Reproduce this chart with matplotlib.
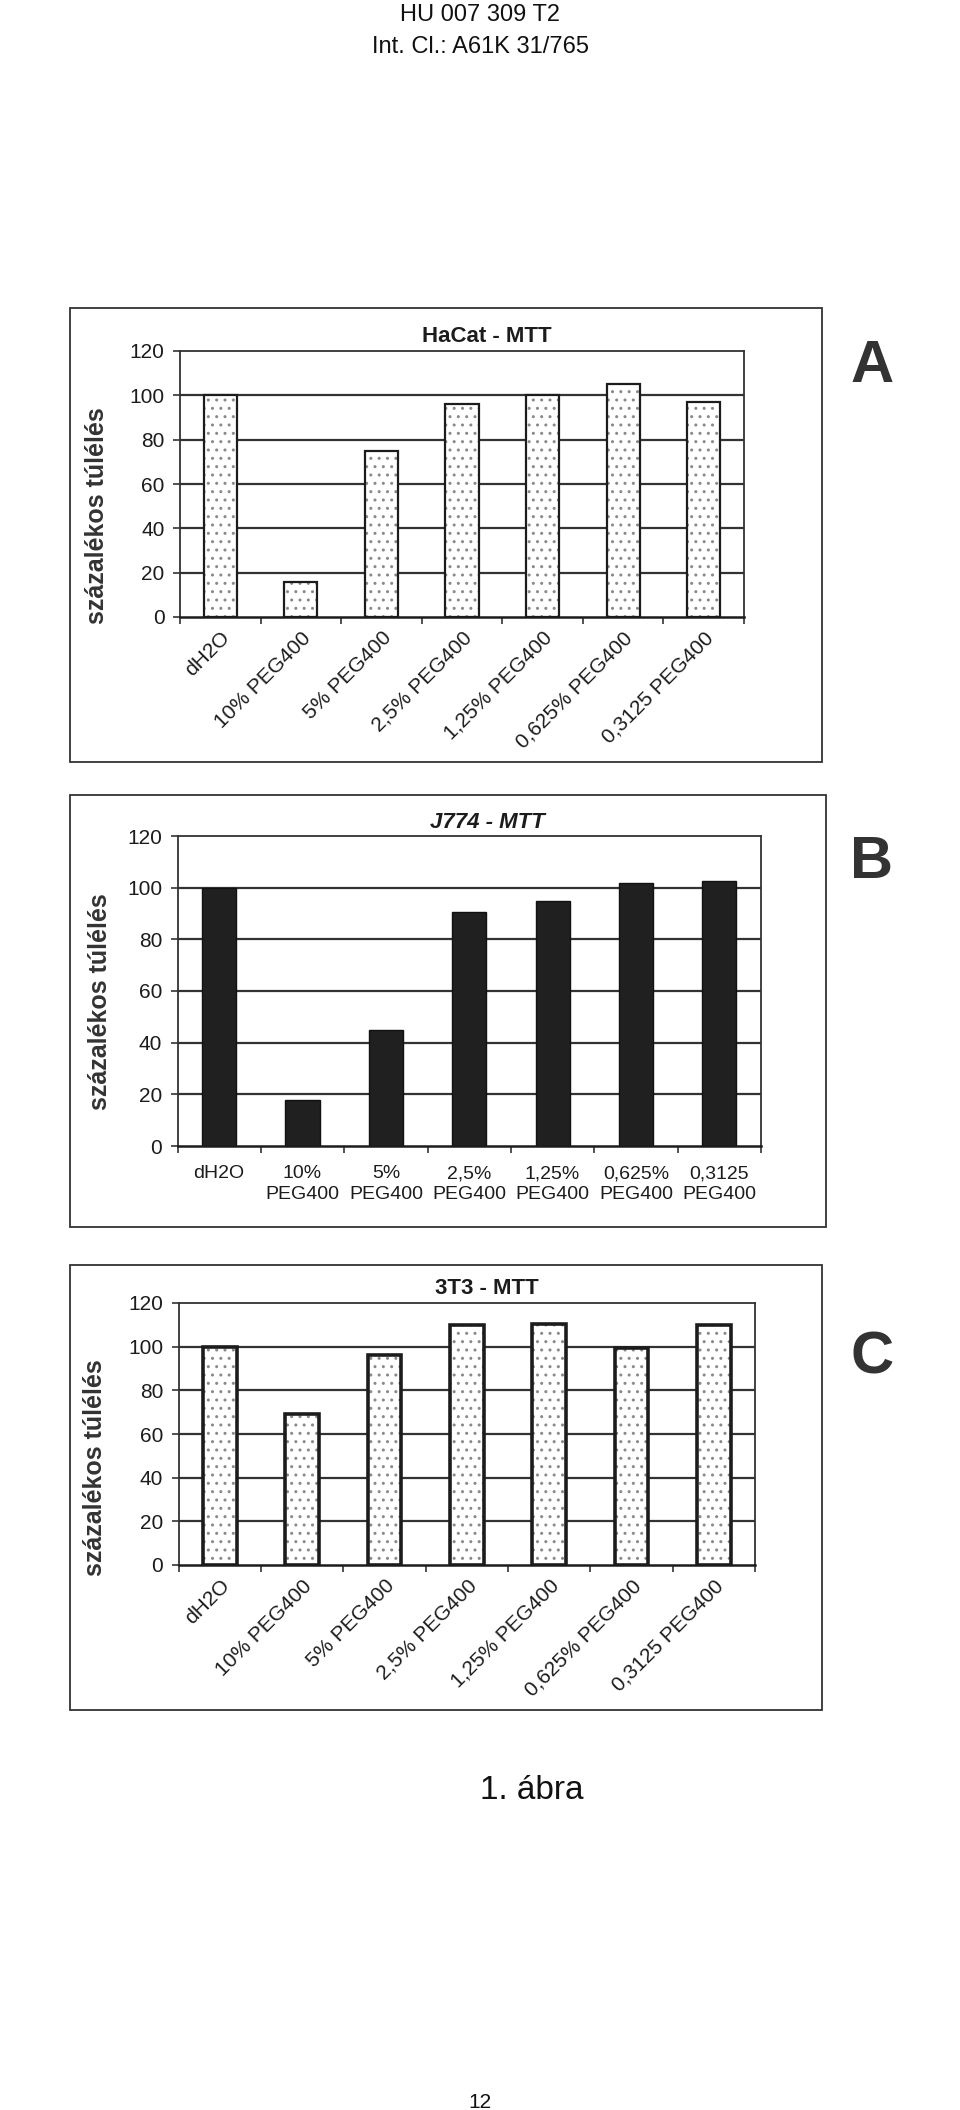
import matplotlib
matplotlib.use("Agg")
import matplotlib.pyplot as plt
from matplotlib.patches import Rectangle
import numpy as np

plt.rcParams['font.family'] = ['Liberation Sans', 'DejaVu Sans']

# ---- data ----
labels_rot = ['dH2O', '10% PEG400', '5% PEG400', '2,5% PEG400',
              '1,25% PEG400', '0,625% PEG400', '0,3125 PEG400']
labels_two = ['dH2O', '10%\nPEG400', '5%\nPEG400', '2,5%\nPEG400',
              '1,25%\nPEG400', '0,625%\nPEG400', '0,3125\nPEG400']
hacat = [100, 16, 75, 96, 100, 105, 97]
j774 = [100, 18, 45, 90.5, 95, 102, 102.5]
t3t3 = [100, 69, 96, 110, 110.5, 99.5, 110]
yticks = [0, 20, 40, 60, 80, 100, 120]

W, H = 960, 2110
fig = plt.figure(figsize=(W / 100, H / 100), dpi=100)
INK = '#1c1c1c'


def ax_at(left, top, right, bottom):
    return fig.add_axes([left / W, 1 - bottom / H, (right - left) / W, (bottom - top) / H])


def box(left, top, right, bottom):
    fig.patches.append(Rectangle((left / W, 1 - bottom / H), (right - left) / W,
                                 (bottom - top) / H, transform=fig.transFigure,
                                 fill=False, edgecolor='#333333', linewidth=1.3))


def style_axes(ax):
    x = np.arange(7)
    ax.set_xlim(-0.5, 6.5)
    ax.set_ylim(0, 120)
    ax.set_yticks(yticks)
    ax.set_yticklabels([str(v) for v in yticks], fontsize=15, color=INK)
    for v in yticks[1:-1]:
        ax.axhline(v, color='#333333', linewidth=1.6, zorder=0.5)
    for s in ax.spines.values():
        s.set_color('#333333')
        s.set_linewidth(1.3)
    ax.spines['bottom'].set_linewidth(1.8)
    ax.spines['bottom'].set_color(INK)
    ax.tick_params(axis='y', direction='out', length=5, width=1.2, color='#333333', pad=6)
    ax.set_xticks(x)
    ax.set_xticks(np.arange(-0.5, 7, 1), minor=True)
    ax.tick_params(axis='x', which='major', length=0)
    ax.tick_params(axis='x', which='minor', direction='out', length=5, width=1.2, color='#333333')
    return x


def stipple_bars(ax, x, vals, lw):
    ax.bar(x, vals, width=0.41, color='white', edgecolor='#8a8a8a', hatch='..',
           linewidth=0, zorder=2)
    ax.bar(x, vals, width=0.41, fill=False, edgecolor=INK, linewidth=lw, zorder=3)


# ---- Panel A ----
box(70, 308, 822, 762)
axA = ax_at(180, 351, 744, 617)
x = style_axes(axA)
stipple_bars(axA, x, hacat, 1.6)
axA.set_xticklabels(labels_rot, rotation=45, ha='right', va='top',
                    rotation_mode='anchor', fontsize=15, color=INK)
axA.tick_params(axis='x', which='major', pad=8)
fig.text(487 / W, 1 - 336 / H, 'HaCat - MTT', fontsize=16, fontweight='bold',
         ha='center', va='center', color=INK)
fig.text(97 / W, 1 - 516 / H, 'százalékos túlélés', rotation=90, fontsize=18,
         fontweight='bold', ha='center', va='center', color='#333333')
fig.text(872 / W, 1 - 367 / H, 'A', fontsize=43, fontweight='bold', ha='center',
         va='center', color='#333333')

# ---- Panel B ----
box(70, 795, 826, 1227)
axB = ax_at(177.5, 836, 761, 1146)
x = style_axes(axB)
axB.bar(x, j774, width=0.41, color='#202020', edgecolor='#111111', linewidth=1.0, zorder=2)
axB.set_xticklabels(labels_two, fontsize=14, color=INK, linespacing=1.3)
axB.tick_params(axis='x', which='major', pad=14)
fig.text(487 / W, 1 - 822 / H, 'J774 - MTT', fontsize=16, fontweight='bold',
         fontstyle='italic', ha='center', va='center', color=INK)
fig.text(100 / W, 1 - 1002 / H, 'százalékos túlélés', rotation=90, fontsize=18,
         fontweight='bold', ha='center', va='center', color='#333333')
fig.text(872 / W, 1 - 863 / H, 'B', fontsize=43, fontweight='bold', ha='center',
         va='center', color='#333333')

# ---- Panel C ----
box(70, 1265, 822, 1710)
axC = ax_at(178.5, 1303, 755, 1565)
x = style_axes(axC)
stipple_bars(axC, x, t3t3, 2.6)
axC.set_xticklabels(labels_rot, rotation=45, ha='right', va='top',
                    rotation_mode='anchor', fontsize=15, color=INK)
axC.tick_params(axis='x', which='major', pad=8)
fig.text(487 / W, 1 - 1288 / H, '3T3 - MTT', fontsize=16, fontweight='bold',
         ha='center', va='center', color=INK)
fig.text(95 / W, 1 - 1468 / H, 'százalékos túlélés', rotation=90, fontsize=18,
         fontweight='bold', ha='center', va='center', color='#333333')
fig.text(872 / W, 1 - 1358 / H, 'C', fontsize=43, fontweight='bold', ha='center',
         va='center', color='#333333')

# ---- page text ----
fig.text(480 / W, 1 - 21 / H, 'HU 007 309 T2', fontsize=17, ha='center',
         va='baseline', color='#111111')
fig.text(480 / W, 1 - 53 / H, 'Int. Cl.: A61K 31/765', fontsize=17, ha='center',
         va='baseline', color='#111111')
fig.text(532 / W, 1 - 1799 / H, '1. ábra', fontsize=24, ha='center',
         va='baseline', color='#111111')
fig.text(480 / W, 1 - 2108 / H, '12', fontsize=15, ha='center',
         va='baseline', color='#111111')

fig.savefig('out.png', dpi=100, facecolor='white')
